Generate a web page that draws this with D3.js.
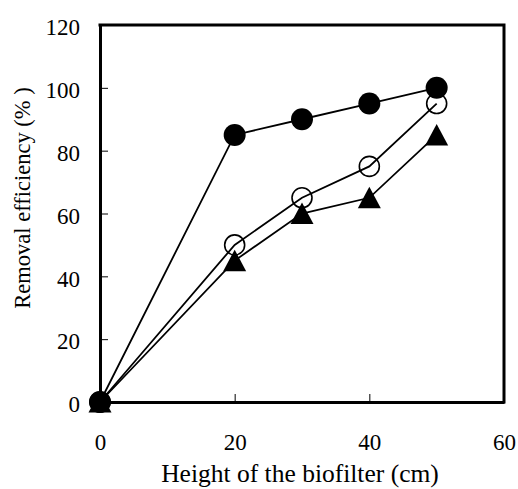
<!DOCTYPE html>
<html>
<head>
<meta charset="utf-8">
<script src="https://cdn.jsdelivr.net/npm/d3@7"></script>
<style>
  body { margin: 0; background: #fff; }
  svg { display: block; font-family: "Liberation Serif", "Times New Roman", serif; }
</style>
</head>
<body>
<div id="chart"></div>
<script>
// heights of the biofilter (cm)
const heights = [0, 20, 30, 40, 50];
// removal efficiency (%) per series
const filledCircle = [0, 85, 90, 95, 100];
const openCircle = [0, 50, 65, 75, 95];
const triangle = [0, 45, 60, 65, 85];
const xTicks = [0, 20, 40, 60];
const yTicks = [0, 20, 40, 60, 80, 100, 120];

const WIDTH = 518, HEIGHT = 489;
const margin = { top: 25, right: 14, bottom: 87, left: 100 };

const svg = d3.select('#chart').append('svg')
  .attr('width', WIDTH)
  .attr('height', HEIGHT);

const x = d3.scaleLinear().domain([0, 60]).range([margin.left, WIDTH - margin.right]);
const y = d3.scaleLinear().domain([0, 120]).range([HEIGHT - margin.bottom, margin.top]);

// axes, ticks point inward
const axisX = d3.axisBottom(x).tickValues(xTicks).tickSizeInner(-8).tickSizeOuter(0).tickPadding(0);
const axisY = d3.axisLeft(y).tickValues(yTicks).tickSizeInner(-8).tickSizeOuter(0).tickPadding(20);

const gx = svg.append('g')
  .attr('transform', `translate(0,${y(0)})`)
  .call(axisX);
gx.selectAll('text').attr('dy', 0).attr('y', 48);

const gy = svg.append('g')
  .attr('transform', `translate(${x(0)},0)`)
  .call(axisY);
gy.selectAll('text').attr('dy', '0.42em');

svg.selectAll('.tick line').attr('stroke', '#000').attr('stroke-width', 1);
svg.selectAll('.tick text').attr('font-size', 23).attr('fill', '#000')
  .attr('font-family', '"Liberation Serif", "Times New Roman", serif');
svg.selectAll('.domain').attr('stroke', '#000').attr('stroke-width', 3);

// top and right frame
svg.append('path')
  .attr('d', `M${x(0)},${y(120)}H${x(60)}V${y(0)}`)
  .attr('fill', 'none')
  .attr('stroke', '#000')
  .attr('stroke-width', 3)
  .attr('stroke-linecap', 'square');

const line = d3.line().x((d, i) => x(heights[i])).y((d) => y(d));

[triangle, openCircle, filledCircle].forEach((s) => {
  svg.append('path')
    .datum(s)
    .attr('d', line)
    .attr('fill', 'none')
    .attr('stroke', '#000')
    .attr('stroke-width', 1.8);
});

// triangles
svg.selectAll('.tri')
  .data(triangle)
  .join('path')
  .attr('class', 'tri')
  .attr('d', (d, i) => {
    const cx = x(heights[i]), cy = y(d);
    return `M${cx},${cy - 11}L${cx + 11.5},${cy + 10.5}L${cx - 11.5},${cy + 10.5}Z`;
  })
  .attr('fill', '#000');

// open circles
svg.selectAll('.open')
  .data(openCircle)
  .join('circle')
  .attr('class', 'open')
  .attr('cx', (d, i) => x(heights[i]))
  .attr('cy', (d) => y(d))
  .attr('r', 10)
  .attr('fill', 'none')
  .attr('stroke', '#000')
  .attr('stroke-width', 1.6);

// filled circles
svg.selectAll('.filled')
  .data(filledCircle)
  .join('circle')
  .attr('class', 'filled')
  .attr('cx', (d, i) => x(heights[i]))
  .attr('cy', (d) => y(d))
  .attr('r', 11)
  .attr('fill', '#000');

// axis titles
svg.append('text')
  .attr('x', 300)
  .attr('y', 482)
  .attr('text-anchor', 'middle')
  .attr('font-size', 25.5)
  .text('Height of the biofilter (cm)');

svg.append('text')
  .attr('transform', 'translate(30,198) rotate(-90)')
  .attr('text-anchor', 'middle')
  .attr('font-size', 22.5)
  .text('Removal efficiency (% )');
</script>
</body>
</html>
